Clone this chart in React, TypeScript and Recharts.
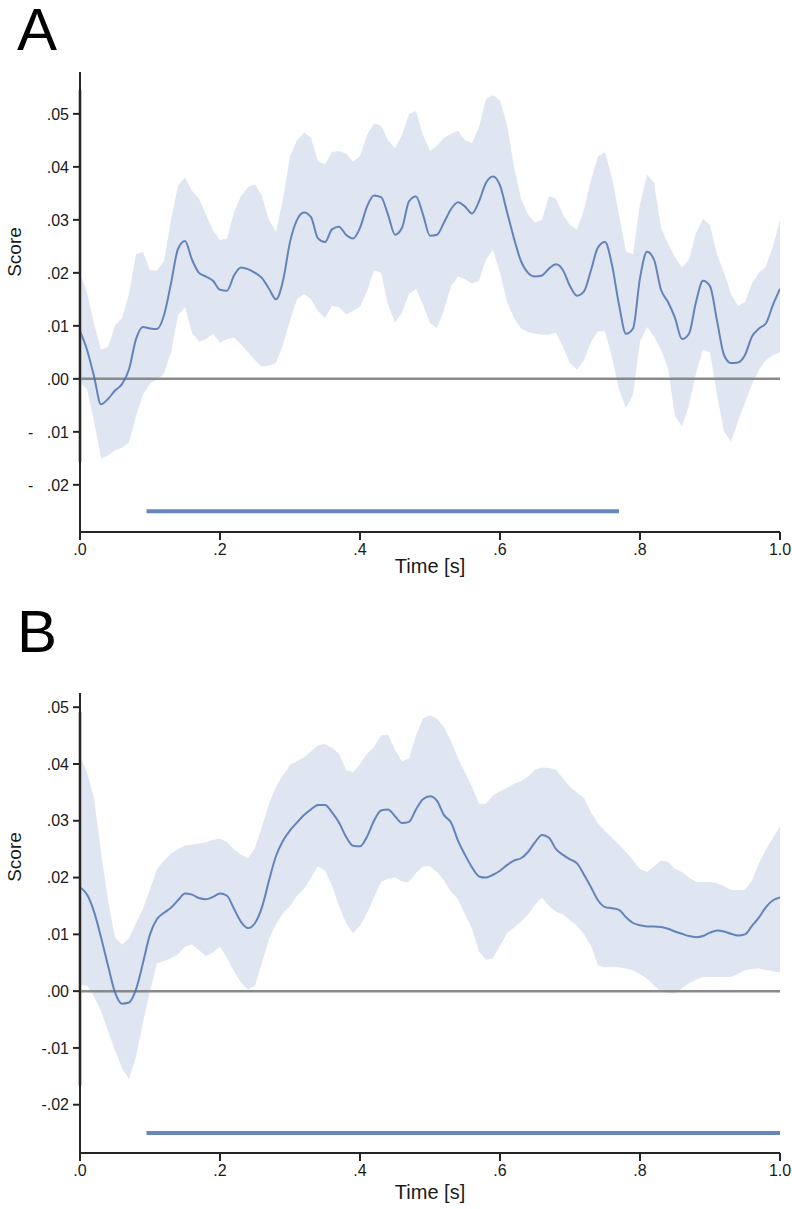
import React from 'react';
import { ComposedChart, Area, Line, XAxis, YAxis, ReferenceLine } from 'recharts';

// time grid (s)
const TIME = [
  0, 0.01, 0.02, 0.03, 0.04, 0.05, 0.06, 0.07, 0.08, 0.09,
  0.1, 0.11, 0.12, 0.13, 0.14, 0.15, 0.16, 0.17, 0.18, 0.19,
  0.2, 0.21, 0.22, 0.23, 0.24, 0.25, 0.26, 0.27, 0.28, 0.29,
  0.3, 0.31, 0.32, 0.33, 0.34, 0.35, 0.36, 0.37, 0.38, 0.39,
  0.4, 0.41, 0.42, 0.43, 0.44, 0.45, 0.46, 0.47, 0.48, 0.49,
  0.5, 0.51, 0.52, 0.53, 0.54, 0.55, 0.56, 0.57, 0.58, 0.59,
  0.6, 0.61, 0.62, 0.63, 0.64, 0.65, 0.66, 0.67, 0.68, 0.69,
  0.7, 0.71, 0.72, 0.73, 0.74, 0.75, 0.76, 0.77, 0.78, 0.79,
  0.8, 0.81, 0.82, 0.83, 0.84, 0.85, 0.86, 0.87, 0.88, 0.89,
  0.9, 0.91, 0.92, 0.93, 0.94, 0.95, 0.96, 0.97, 0.98, 0.99, 1.0,
];

// panel A
const MEAN_A = [
  0.0090, 0.0055, 0.0005, -0.0048, -0.0038, -0.0022, -0.0010, 0.0018, 0.0075, 0.0098,
  0.0095, 0.0094, 0.0120, 0.0180, 0.0245, 0.0260, 0.0225, 0.0200, 0.0193, 0.0185,
  0.0168, 0.0166, 0.0195, 0.0210, 0.0207, 0.0200, 0.0190, 0.0170, 0.0150, 0.0185,
  0.0258, 0.0300, 0.0314, 0.0305, 0.0265, 0.0258, 0.0282, 0.0287, 0.0272, 0.0265,
  0.0285, 0.0325, 0.0346, 0.0343, 0.0310, 0.0272, 0.0285, 0.0335, 0.0344, 0.0310,
  0.0270, 0.0272, 0.0295, 0.0320, 0.0333, 0.0325, 0.0312, 0.0335, 0.0370, 0.0382,
  0.0365, 0.0315, 0.0265, 0.0222, 0.0200, 0.0193, 0.0195, 0.0208, 0.0216, 0.0205,
  0.0175, 0.0157, 0.0165, 0.0205, 0.0248, 0.0258, 0.0215, 0.0140, 0.0085, 0.0095,
  0.0190, 0.0240, 0.0225, 0.0168, 0.0145, 0.0115, 0.0075, 0.0085, 0.0145, 0.0185,
  0.0175, 0.0110, 0.0045, 0.0030, 0.0031, 0.0045, 0.0080, 0.0095, 0.0105, 0.0140, 0.0170,
];
const HIGH_A = [
  0.0200, 0.0163, 0.0105, 0.0055, 0.0060, 0.0100, 0.0115, 0.0160, 0.0235, 0.0240,
  0.0205, 0.0205, 0.0222, 0.0300, 0.0365, 0.0380, 0.0355, 0.0340, 0.0310, 0.0280,
  0.0262, 0.0265, 0.0315, 0.0345, 0.0362, 0.0367, 0.0345, 0.0300, 0.0278, 0.0340,
  0.0420, 0.0450, 0.0465, 0.0455, 0.0410, 0.0405, 0.0428, 0.0430, 0.0425, 0.0410,
  0.0420, 0.0460, 0.0482, 0.0478, 0.0450, 0.0435, 0.0460, 0.0500, 0.0505, 0.0460,
  0.0430, 0.0440, 0.0455, 0.0462, 0.0468, 0.0450, 0.0445, 0.0475, 0.0528, 0.0535,
  0.0525, 0.0480, 0.0400, 0.0340, 0.0310, 0.0295, 0.0300, 0.0345, 0.0340, 0.0310,
  0.0290, 0.0282, 0.0320, 0.0375, 0.0420, 0.0428, 0.0380, 0.0310, 0.0240, 0.0235,
  0.0330, 0.0385, 0.0370, 0.0285, 0.0255, 0.0230, 0.0210, 0.0225, 0.0275, 0.0302,
  0.0290, 0.0235, 0.0200, 0.0160, 0.0138, 0.0145, 0.0180, 0.0200, 0.0212, 0.0250, 0.0300,
];
const LOW_A = [
  -0.0005, -0.0020, -0.0080, -0.0150, -0.0145, -0.0135, -0.0130, -0.0120, -0.0070, -0.0030,
  -0.0008, -0.0002, 0.0010, 0.0050, 0.0120, 0.0135, 0.0087, 0.0070, 0.0075, 0.0085,
  0.0068, 0.0075, 0.0078, 0.0065, 0.0050, 0.0035, 0.0023, 0.0025, 0.0030, 0.0065,
  0.0110, 0.0150, 0.0160, 0.0150, 0.0128, 0.0115, 0.0138, 0.0135, 0.0122, 0.0128,
  0.0136, 0.0165, 0.0205, 0.0200, 0.0140, 0.0106, 0.0125, 0.0160, 0.0170, 0.0140,
  0.0105, 0.0096, 0.0130, 0.0175, 0.0193, 0.0188, 0.0180, 0.0185, 0.0225, 0.0244,
  0.0200, 0.0145, 0.0115, 0.0095, 0.0088, 0.0085, 0.0083, 0.0083, 0.0087, 0.0060,
  0.0030, 0.0017, 0.0035, 0.0070, 0.0090, 0.0090, 0.0040, -0.0020, -0.0055, -0.0030,
  0.0070, 0.0098, 0.0080, 0.0055, 0.0020, -0.0070, -0.0090, -0.0050, 0.0010, 0.0055,
  0.0050, -0.0030, -0.0100, -0.0118, -0.0080, -0.0045, -0.0010, 0.0017, 0.0035, 0.0045, 0.0050,
];

// panel B
const MEAN_B = [
  0.0183, 0.0170, 0.0140, 0.0095, 0.0045, -0.0002, -0.0022, -0.0020, 0.0003, 0.0050,
  0.0100, 0.0127, 0.0138, 0.0147, 0.0160, 0.0172, 0.0170, 0.0164, 0.0162, 0.0166,
  0.0172, 0.0168, 0.0145, 0.0122, 0.0111, 0.0120, 0.0148, 0.0195, 0.0238, 0.0265,
  0.0283, 0.0297, 0.0310, 0.0320, 0.0328, 0.0328, 0.0315, 0.0297, 0.0272, 0.0256,
  0.0255, 0.0272, 0.0300, 0.0318, 0.0320, 0.0308, 0.0296, 0.0298, 0.0320, 0.0338,
  0.0343, 0.0335, 0.0310, 0.0297, 0.0265, 0.0240, 0.0218, 0.0202, 0.0200, 0.0205,
  0.0212, 0.0222, 0.0230, 0.0234, 0.0245, 0.0262, 0.0275, 0.0270, 0.0250, 0.0240,
  0.0232, 0.0225, 0.0205, 0.0183, 0.0160, 0.0148, 0.0146, 0.0143, 0.0130, 0.0120,
  0.0116, 0.0114, 0.0114, 0.0113, 0.0110, 0.0105, 0.0101, 0.0097, 0.0095, 0.0097,
  0.0103, 0.0107, 0.0105, 0.0101, 0.0098, 0.0100, 0.0115, 0.0130, 0.0148, 0.0160, 0.0165,
];
const HIGH_B = [
  0.0415, 0.0385, 0.0340, 0.0245, 0.0160, 0.0095, 0.0082, 0.0093, 0.0120, 0.0145,
  0.0180, 0.0215, 0.0230, 0.0242, 0.0250, 0.0257, 0.0258, 0.0260, 0.0262, 0.0266,
  0.0269, 0.0262, 0.0250, 0.0240, 0.0234, 0.0252, 0.0290, 0.0330, 0.0360, 0.0380,
  0.0398, 0.0405, 0.0412, 0.0422, 0.0433, 0.0435, 0.0428, 0.0418, 0.0390, 0.0385,
  0.0400, 0.0418, 0.0430, 0.0450, 0.0452, 0.0425, 0.0405, 0.0410, 0.0450, 0.0480,
  0.0486, 0.0480, 0.0465, 0.0440, 0.0410, 0.0385, 0.0360, 0.0330, 0.0330, 0.0345,
  0.0352, 0.0358, 0.0365, 0.0370, 0.0378, 0.0390, 0.0394, 0.0393, 0.0390, 0.0375,
  0.0360, 0.0350, 0.0340, 0.0315, 0.0295, 0.0282, 0.0270, 0.0258, 0.0245, 0.0230,
  0.0215, 0.0210, 0.0220, 0.0230, 0.0228, 0.0215, 0.0210, 0.0200, 0.0192, 0.0192,
  0.0192, 0.0190, 0.0185, 0.0178, 0.0178, 0.0178, 0.0195, 0.0225, 0.0250, 0.0270, 0.0290,
];
const LOW_B = [
  0.0010, 0.0010, -0.0010, -0.0035, -0.0070, -0.0104, -0.0135, -0.0155, -0.0115, -0.0055,
  0.0000, 0.0049, 0.0053, 0.0058, 0.0065, 0.0078, 0.0082, 0.0072, 0.0062, 0.0068,
  0.0078, 0.0058, 0.0035, 0.0015, 0.0003, 0.0010, 0.0050, 0.0092, 0.0118, 0.0137,
  0.0150, 0.0168, 0.0180, 0.0200, 0.0220, 0.0212, 0.0185, 0.0150, 0.0120, 0.0102,
  0.0115, 0.0137, 0.0165, 0.0192, 0.0198, 0.0200, 0.0193, 0.0192, 0.0208, 0.0220,
  0.0220, 0.0210, 0.0195, 0.0175, 0.0162, 0.0135, 0.0110, 0.0070, 0.0055, 0.0058,
  0.0080, 0.0102, 0.0112, 0.0122, 0.0135, 0.0152, 0.0165, 0.0150, 0.0140, 0.0135,
  0.0125, 0.0115, 0.0100, 0.0080, 0.0045, 0.0042, 0.0042, 0.0042, 0.0040, 0.0037,
  0.0030, 0.0022, 0.0010, 0.0000, -0.0003, -0.0004, 0.0005, 0.0014, 0.0020, 0.0025,
  0.0025, 0.0025, 0.0025, 0.0025, 0.0030, 0.0037, 0.0039, 0.0040, 0.0037, 0.0035, 0.0033,
];

// significant time windows and marker level
const SIG_A = [0.095, 0.77];
const SIG_B = [0.095, 1.0];
const SIG_LEVEL = -0.025;

// grey vertical line at t = 0 (y extent)
const VLINE_A = [-0.0157, 0.0545];
const VLINE_B = [-0.0166, 0.0492];

const X_TICKS = [0, 0.2, 0.4, 0.6, 0.8, 1.0];
const Y_TICKS = [-0.02, -0.01, 0, 0.01, 0.02, 0.03, 0.04, 0.05];

const FONT = '"Liberation Sans", Arial, Helvetica, sans-serif';
const LINE = '#4C72B0';
const AXIS = '#262626';

const fmtX = (v: number) => v.toFixed(1).replace(/^0/, '');
const fmtYA = (v: number) => {
  const s = Math.abs(v).toFixed(2).replace(/^0/, '');
  return v < 0 ? '-\u00a0\u00a0\u00a0' + s : s;
};
const fmtYB = (v: number) => {
  const s = Math.abs(v).toFixed(2).replace(/^0/, '');
  return v < 0 ? '-' + s : s;
};

function buildRows(mean: number[], low: number[], high: number[]) {
  return TIME.map((t, i) => ({ t, mean: mean[i], band: [low[i], high[i]] }));
}

interface PanelProps {
  letter: string;
  top: number;
  height: number;
  margin: { top: number; right: number; bottom: number; left: number };
  rows: any[];
  domain: [number, number];
  sig: number[];
  vline: number[];
  fmtY: (v: number) => string;
  scoreY: number;
  timeY: number;
  letterY: number;
}

function Panel({ letter, top, height, margin, rows, domain, sig, vline, fmtY, scoreY, timeY, letterY }: PanelProps) {
  const tick = { fill: '#1a1a1a', fontSize: 16, fontFamily: FONT };
  return (
    <>
      <div style={{ position: 'absolute', left: 17, top: letterY, fontFamily: FONT, fontSize: 60, lineHeight: '60px', color: '#000' }}>
        {letter}
      </div>
      <div style={{ position: 'absolute', left: 0, top }}>
        <ComposedChart width={792} height={height} data={rows} margin={margin}>
          <XAxis
            dataKey="t"
            type="number"
            domain={[0, 1]}
            ticks={X_TICKS}
            tickFormatter={fmtX}
            allowDataOverflow
            height={40}
            tick={tick}
            tickSize={8}
            tickMargin={4}
            axisLine={{ stroke: AXIS, strokeWidth: 2 }}
            tickLine={{ stroke: AXIS, strokeWidth: 2 }}
          />
          <YAxis
            type="number"
            domain={domain}
            ticks={Y_TICKS}
            tickFormatter={fmtY}
            allowDataOverflow
            width={60}
            tick={tick}
            tickSize={7}
            tickMargin={4}
            axisLine={{ stroke: AXIS, strokeWidth: 2 }}
            tickLine={{ stroke: AXIS, strokeWidth: 2 }}
          />
          <Area
            dataKey="band"
            type="linear"
            stroke="none"
            fill={LINE}
            fillOpacity={0.18}
            isAnimationActive={false}
            activeDot={false}
          />
          <ReferenceLine y={0} stroke="#8a8a8a" strokeWidth={2.5} />
          <ReferenceLine
            segment={[{ x: 0, y: vline[0] }, { x: 0, y: vline[1] }]}
            stroke="#8a8a8a"
            strokeWidth={3}
          />
          <ReferenceLine
            segment={[{ x: sig[0], y: SIG_LEVEL }, { x: sig[1], y: SIG_LEVEL }]}
            stroke={LINE}
            strokeOpacity={0.85}
            strokeWidth={4}
          />
          <Line
            dataKey="mean"
            type="monotone"
            stroke={LINE}
            strokeOpacity={0.85}
            strokeWidth={2}
            dot={false}
            activeDot={false}
            isAnimationActive={false}
          />
        </ComposedChart>
      </div>
      <div
        style={{
          position: 'absolute', left: 15, top: scoreY, fontFamily: FONT, fontSize: 19, color: '#1a1a1a',
          transform: 'translate(-50%, -50%) rotate(-90deg)', whiteSpace: 'nowrap',
        }}
      >
        Score
      </div>
      <div
        style={{
          position: 'absolute', left: 430, top: timeY, fontFamily: FONT, fontSize: 20, color: '#1a1a1a',
          transform: 'translate(-50%, -50%)', whiteSpace: 'nowrap',
        }}
      >
        Time [s]
      </div>
    </>
  );
}

export default function App() {
  const rowsA = buildRows(MEAN_A, LOW_A, HIGH_A);
  const rowsB = buildRows(MEAN_B, LOW_B, HIGH_B);
  return (
    <div style={{ position: 'absolute', left: 0, top: 0, width: 792, height: 1209, background: '#fff', overflow: 'hidden' }}>
      <Panel
        letter="A"
        top={0}
        height={600}
        margin={{ top: 72, right: 12, bottom: 28, left: 20 }}
        rows={rowsA}
        domain={[-0.0289, 0.0579]}
        sig={SIG_A}
        vline={VLINE_A}
        fmtY={fmtYA}
        scoreY={252}
        timeY={566}
        letterY={0}
      />
      <Panel
        letter="B"
        top={605}
        height={600}
        margin={{ top: 88, right: 12, bottom: 12, left: 20 }}
        rows={rowsB}
        domain={[-0.0285, 0.0525]}
        sig={SIG_B}
        vline={VLINE_B}
        fmtY={fmtYB}
        scoreY={857}
        timeY={1192}
        letterY={602}
      />
    </div>
  );
}
